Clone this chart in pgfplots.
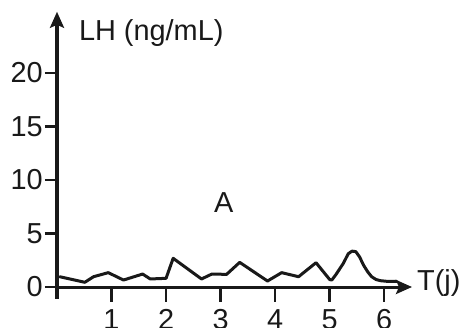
\documentclass[border=0pt]{standalone}
\usepackage{pgfplots}
\pgfplotsset{compat=1.18}
\usepackage{fontspec}
\setmainfont{Liberation Sans}
\usetikzlibrary{arrows.meta,calc}
\begin{document}
\begin{tikzpicture}
\begin{axis}[
  scale only axis, width=355bp, height=287bp,
  xmin=0, xmax=6.51, ymin=-1.1, ymax=25.7,
  axis lines=middle,
  axis line style={line width=3bp, black!90, -{Stealth[length=16bp,width=14bp,inset=3bp]}},
  xtick={1,2,3,4,5,6}, ytick={0,5,10,15,20},
  hide obscured y ticks=false,
  tick align=outside,
  major tick length=12bp,
  tick style={line width=2.6bp, black!90},
  xtick style={draw=none},
  /pgf/number format/assume math mode=true,
  ticklabel style={font=\fontsize{29}{32}\selectfont, text=black!90, fill=none},
  xticklabel style={inner sep=1bp, yshift=-9bp},
  yticklabel style={inner sep=2bp},
  clip=false,
]
\addplot[line width=3bp, black!90, line join=round, line cap=round] coordinates {
(0.05,0.96) (0.51,0.44) (0.67,0.96) (0.94,1.34) (1.22,0.65) (1.57,1.21)
(1.71,0.75) (2.00,0.81) (2.13,2.68) (2.65,0.75) (2.84,1.21) (3.11,1.18)
(3.35,2.30) (3.86,0.56) (4.12,1.34) (4.43,0.96) (4.75,2.27) (5.00,0.70)
(5.04,0.65) (5.12,1.2) (5.25,2.2) (5.34,3.1) (5.41,3.35) (5.48,3.3)
(5.55,2.8) (5.62,2.05) (5.70,1.4) (5.77,0.96) (5.85,0.70) (5.93,0.59)
(6.05,0.53) (6.23,0.53)};
\node[anchor=west, font=\fontsize{29}{32}\selectfont, inner sep=0pt, text=black!90] at (axis cs:0.40,23.7) {LH (ng/mL)};
\node[anchor=west, font=\fontsize{29}{32}\selectfont, inner sep=0pt, text=black!90] at (axis cs:6.60,0.35) {T(j)};
\node[font=\fontsize{29}{32}\selectfont, inner sep=0pt, text=black!90] at (axis cs:3.06,7.85) {A};
\coordinate (O) at (axis cs:0,0);
\coordinate (X1) at (axis cs:1,0);
\end{axis}
\foreach \k in {0,1,2,3,4,5}{
  \draw[line width=2.6bp, black!90] (X1) ++(\k*54.53bp,0) -- ++(0,-15bp);
}
\pgfresetboundingbox
\path (O) ++(-57bp,-41bp) rectangle ++(466bp,328bp);
\end{tikzpicture}
\end{document}
